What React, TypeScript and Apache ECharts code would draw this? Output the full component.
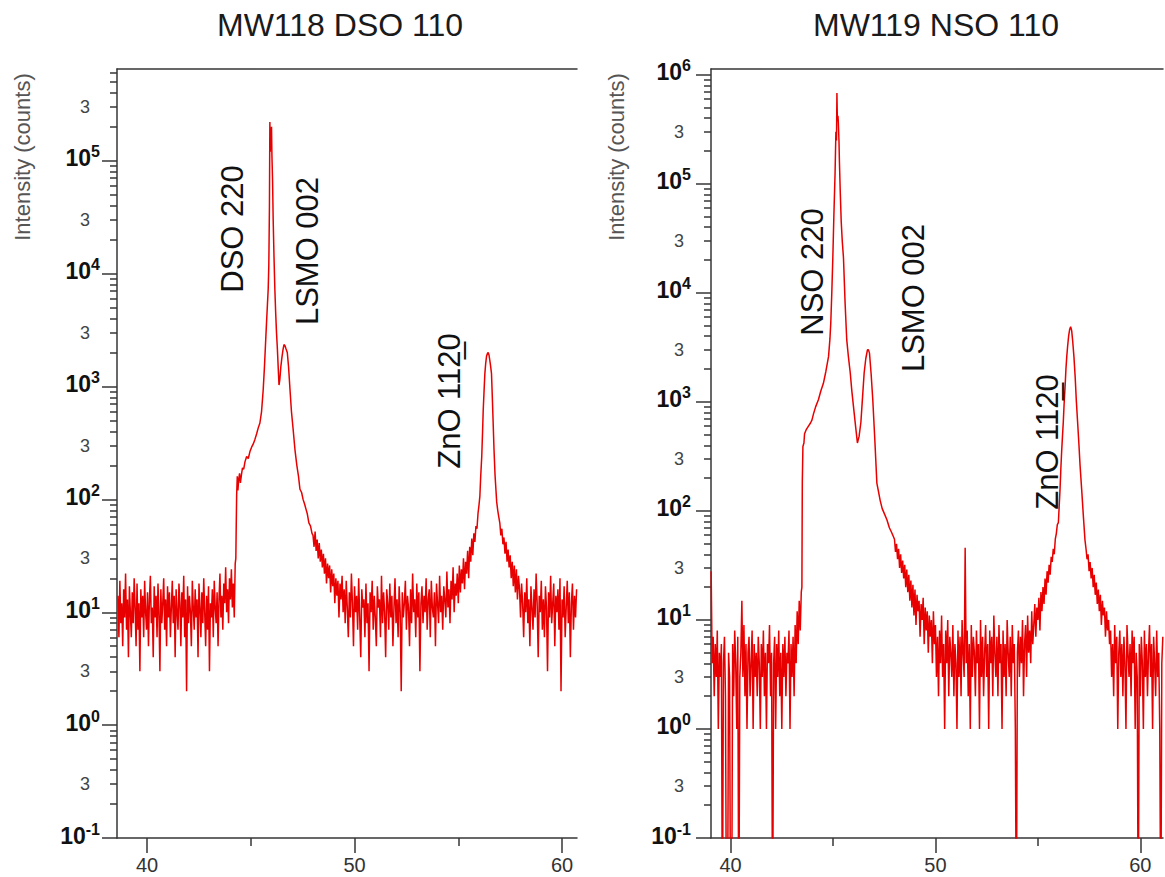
import React, { useEffect, useRef } from "react";
import * as echarts from "echarts";

const FONT = "'Liberation Sans', Arial, Helvetica, sans-serif";
const LINE_COLOR = "#e80000";
const AXIS_COLOR = "#363636";

// ---------- MW118 DSO 110 (counts vs 2theta) ----------
const dsoBgLeft = [
  14, 6, 19, 8, 12, 5, 16, 9, 22, 7,
  13, 4, 17, 10, 6, 15, 8, 20, 11, 5,
  18, 7, 12, 3, 16, 9, 14, 6, 19, 10,
  7, 15, 5, 13, 21, 8, 11, 4, 17, 9,
  14, 6, 18, 10, 3, 16, 8, 12, 20, 7,
  13, 5, 17, 9, 15, 6, 11, 19, 8, 14,
  4, 16, 10, 7, 18, 12, 5, 15, 9, 21,
  6, 13, 2, 17, 8, 14, 10, 5, 19, 11,
  7, 16, 9, 13, 4, 18, 11, 6, 15, 8,
  20, 10, 5, 14, 7, 17, 3, 12, 9, 16,
  6, 19, 11, 8, 15, 5, 13, 22, 9, 14,
  7, 18, 12, 25, 10, 16, 8, 20, 13, 24,
  11, 18, 9, 27,
];
const dsoPeakX = [
  44.28, 44.3, 44.32, 44.35, 44.38, 44.42, 44.46, 44.5, 44.55, 44.6,
  44.66, 44.72, 44.8, 44.88, 44.96, 45.04, 45.12, 45.2, 45.28, 45.36,
  45.44, 45.52, 45.6, 45.66, 45.72, 45.76, 45.8, 45.84, 45.87, 45.9,
  45.92, 45.94, 45.96, 45.98, 46.0, 46.02, 46.05, 46.08, 46.12, 46.16,
  46.2, 46.24, 46.28, 46.32, 46.36, 46.4, 46.45, 46.5, 46.55, 46.6,
  46.65, 46.7, 46.76, 46.82, 46.89, 46.96, 47.04, 47.13, 47.22, 47.3,
  47.37, 47.45, 47.52, 47.6, 47.66, 47.72, 47.8, 47.88, 47.95,
];
const dsoPeakY = [
  30, 60, 110, 160, 120, 150, 170, 140, 165, 190,
  185, 215, 240, 230, 265, 290, 310, 340, 380, 430,
  475, 600, 940, 1500, 2600, 3700, 5200, 7300, 12000, 40000,
  220000, 120000, 190000, 150000, 200000, 110000, 68000, 30000, 14000, 7300,
  4500, 3000, 2200, 1500, 1030, 1150, 1500, 1800, 2100, 2350,
  2300, 2150, 2000, 1500, 940, 600, 420, 275, 200, 160,
  123, 115, 100, 90, 82, 75, 62, 58, 50,
];
const dsoBgMid = [
  48, 38, 52, 35, 44, 30, 41, 28, 36, 25,
  33, 22, 30, 18, 27, 20, 26, 15, 24, 17,
  22, 12, 20, 14, 19, 9, 18, 13, 21, 10,
  16, 8, 19, 11, 6, 15, 9, 22, 12, 5,
  17, 10, 14, 7, 20, 9, 4, 16, 11, 13,
  6, 18, 8, 12, 3, 15, 10, 19, 7, 14,
  9, 5, 17, 11, 13, 6, 21, 8, 15, 10,
  4, 16, 12, 7, 18, 9, 14, 5, 11, 20,
  8, 13, 6, 17, 10, 2, 15, 9, 12, 19,
  7, 14, 11, 5, 16, 8, 22, 10, 13, 6,
  18, 9, 15, 3, 12, 17, 8, 14, 10, 20,
  7, 13, 16, 6, 19, 11, 9, 15, 5, 18,
  12, 8, 21, 10, 14, 7, 17, 13, 9, 23,
  11, 16, 8, 19, 13, 25, 10, 18, 14, 22,
  12, 26, 15, 24, 18, 30, 16, 28, 22, 35,
  20, 38, 28, 45, 32, 50, 42, 58, 55, 75,
];
const dsoZnoX = [
  56.0, 56.04, 56.08, 56.13, 56.17, 56.2, 56.24, 56.28, 56.32, 56.36,
  56.4, 56.44, 56.48, 56.52, 56.56, 56.6, 56.64, 56.68, 56.72, 56.77,
  56.81, 56.85, 56.9, 56.95,
];
const dsoZnoY = [
  90, 107, 160, 240, 400, 610, 900, 1300, 1600, 1850,
  1950, 2000, 1900, 1700, 1500, 1300, 800, 475, 280, 165,
  125, 95, 80, 70,
];
const dsoBgRight = [
  62, 48, 55, 40, 46, 33, 42, 28, 36, 25,
  32, 20, 28, 17, 26, 15, 24, 13, 21, 16,
  9, 18, 12, 6, 15, 10, 20, 8, 13, 5,
  17, 11, 7, 16, 9, 22, 12, 4, 14, 10,
  19, 7, 13, 6, 17, 11, 3, 15, 9, 21,
  8, 12, 18, 5, 14, 10, 16, 7, 20, 2,
  13, 9, 17, 6, 11, 19, 8, 15, 4, 12,
  18, 7, 14, 9, 16,
];

// ---------- MW119 NSO 110 ----------
// 0.01 marks zero-count channels (below the axis floor)
const nsoBgLeft = [
  28, 4, 7, 2, 6, 3, 8, 1, 5, 3,
  6, 0.01, 4, 7, 2, 0.01, 0.01, 5, 3, 0.01,
  0.01, 6, 2, 8, 4, 1, 7, 0.01, 3, 5,
  15, 3, 9, 2, 6, 1, 5, 7, 2, 4,
  8, 1, 6, 3, 5, 2, 7, 4, 1, 6,
  3, 8, 2, 5, 1, 6, 4, 9, 2, 5,
  0.01, 4, 7, 1, 6, 3, 8, 2, 5, 1,
  6, 3, 7, 2, 5, 4, 8, 1, 6, 3,
  7, 2, 9, 4, 12, 6, 15, 8, 18,
];
const nsoPeakX = [
  43.48, 43.5, 43.53, 43.58, 43.61, 43.7, 43.8, 43.9, 43.97, 44.05,
  44.15, 44.29, 44.4, 44.53, 44.65, 44.78, 44.85, 44.89, 44.94, 44.99,
  45.04, 45.1, 45.14, 45.17, 45.19, 45.21, 45.24, 45.26, 45.29, 45.31,
  45.35, 45.4, 45.45, 45.51, 45.59, 45.67, 45.75, 45.84, 45.92, 46.0,
  46.1, 46.19, 46.27, 46.36, 46.44, 46.52, 46.6, 46.68, 46.73, 46.78,
  46.86, 46.94, 47.04, 47.14, 47.22, 47.3, 47.4, 47.5, 47.63, 47.75,
  47.85, 47.95,
];
const nsoPeakY = [
  20, 180, 390, 420, 510, 560, 600, 640, 680, 780,
  900, 1050, 1250, 1480, 1900, 2600, 3800, 5300, 10000, 21000,
  50000, 126000, 300000, 250000, 680000, 400000, 420000, 360000, 250000, 166000,
  88000, 45000, 30000, 21000, 8000, 3700, 2600, 1850, 1250, 900,
  600, 420, 480, 650, 1100, 1850, 2500, 3000, 3000, 2800,
  1800, 1050, 450, 180, 150, 125, 105, 95, 83, 70,
  64, 58,
];
const nsoBgMid = [
  55, 42, 50, 36, 45, 30, 40, 27, 35, 24,
  32, 20, 29, 18, 26, 15, 23, 13, 21, 11,
  19, 9, 17, 12, 15, 7, 14, 10, 16, 6,
  13, 8, 12, 5, 11, 7, 10, 4, 12, 6,
  9, 3, 7, 2, 8, 4, 11, 3, 6, 1,
  8, 4, 10, 2, 7, 5, 3, 9, 2, 6,
  4, 1, 8, 3, 7, 2, 10, 5, 3, 46,
  4, 8, 2, 6, 1, 9, 3, 7, 5, 2,
  8, 4, 6, 1, 10, 3, 7, 2, 5, 9,
  3, 6, 1, 8, 4, 7, 2, 11, 5, 3,
  7, 2, 9, 4, 6, 1, 8, 3, 6, 2,
  10, 5, 3, 7, 2, 9, 4, 6, 1, 0.01,
  5, 8, 3, 7, 4, 10, 2, 6, 9, 3,
  11, 5, 8, 4, 12, 6, 9, 14, 7, 13,
  10, 16, 8, 18, 12, 20, 14, 24, 17, 28,
  22, 32, 26, 38, 34, 45, 40, 55, 62, 75,
];
const nsoZnoX = [
  56.0, 56.04, 56.08, 56.12, 56.16, 56.2, 56.24, 56.28, 56.33, 56.37,
  56.41, 56.45, 56.5, 56.55, 56.6, 56.65, 56.7, 56.76, 56.82, 56.88,
  56.94, 57.0, 57.06, 57.14, 57.22, 57.3,
];
const nsoZnoY = [
  78, 110, 155, 240, 350, 480, 650, 950, 1400, 2000,
  2600, 3200, 4000, 4600, 4900, 4500, 3600, 2600, 1700, 1000,
  650, 420, 260, 155, 90, 54,
];
const nsoBgRight = [
  45, 36, 40, 28, 34, 24, 30, 20, 26, 17,
  22, 14, 19, 12, 17, 9, 15, 11, 13, 7,
  12, 8, 10, 6,
  8, 3, 6, 2, 9, 4, 7, 1, 5, 8,
  3, 6, 2, 7, 4, 1, 9, 5, 3, 6,
  2, 8, 4, 7, 1, 5, 3, 0.01, 6, 2,
  7, 4, 1, 8, 3, 6, 2, 5, 9, 3,
  6, 1, 7, 4, 2, 8, 3, 5, 1, 0.01,
  4, 7,
];

// ---------- axes / ticks ----------
const xTickValues = [40, 50, 60];
const xMinorValues = [45, 55];
const dsoDecades = [-1, 0, 1, 2, 3, 4, 5];
const nsoDecades = [-1, 0, 1, 2, 3, 4, 5, 6];
const minorMultipliers = [2, 3, 4, 5, 6, 7, 8, 9];
const labeledMultiplier = 3;

function grid(start: number, end: number, values: number[]) {
  const n = values.length;
  return values.map((v, i) => [start + ((end - start) * i) / (n - 1), v]);
}
function pairs(xs: number[], ys: number[]) {
  return xs.map((x, i) => [x, ys[i]]);
}

const dsoData = [
  ...grid(38.6, 44.25, dsoBgLeft),
  ...pairs(dsoPeakX, dsoPeakY),
  ...grid(48.0, 55.95, dsoBgMid),
  ...pairs(dsoZnoX, dsoZnoY),
  ...grid(57.0, 60.7, dsoBgRight),
];
const nsoData = [
  ...grid(39.05, 43.45, nsoBgLeft),
  ...pairs(nsoPeakX, nsoPeakY),
  ...grid(48.0, 55.95, nsoBgMid),
  ...pairs(nsoZnoX, nsoZnoY),
  ...grid(57.35, 61.1, nsoBgRight),
];

const lineStyle = { color: AXIS_COLOR, width: 1.5 };

function panel(idx: number, cfg: any) {
  const maxExp = Math.log10(cfg.yMax);
  const minors: number[] = [];
  const threes: number[] = [];
  cfg.decades.forEach((d: number) => {
    minorMultipliers.forEach((m) => {
      const v = d + Math.log10(m);
      if (v <= maxExp) minors.push(v);
    });
    const t = d + Math.log10(labeledMultiplier);
    if (t <= maxExp) threes.push(t);
  });
  const gridOpt = { left: cfg.left, top: 69, width: cfg.width, height: 769 };
  const xAxes = [
    {
      gridIndex: idx, type: "value", position: "bottom", min: cfg.xMin, max: cfg.xMax,
      axisLine: { show: true, onZero: false, lineStyle },
      axisTick: { show: true, customValues: xTickValues, length: 15, lineStyle },
      axisLabel: { show: true, customValues: xTickValues, margin: 17, fontSize: 20, color: "#333", fontFamily: FONT },
      splitLine: { show: false },
    },
    {
      gridIndex: idx, type: "value", position: "bottom", min: cfg.xMin, max: cfg.xMax,
      axisLine: { show: false, onZero: false },
      axisTick: { show: true, customValues: xMinorValues, length: 8, lineStyle },
      axisLabel: { show: false },
      splitLine: { show: false },
    },
    {
      gridIndex: idx, type: "value", position: "top", min: cfg.xMin, max: cfg.xMax,
      axisLine: { show: true, onZero: false, lineStyle },
      axisTick: { show: false },
      axisLabel: { show: false },
      splitLine: { show: false },
    },
  ];
  const yAxes = [
    { gridIndex: idx, type: "log", logBase: 10, min: 0.1, max: cfg.yMax, show: false, splitLine: { show: false } },
    {
      gridIndex: idx, type: "value", position: "left", min: -1, max: maxExp,
      axisLine: { show: true, onZero: false, lineStyle },
      axisTick: { show: true, customValues: cfg.decades, length: 15, lineStyle },
      axisLabel: {
        show: true, customValues: cfg.decades, margin: cfg.decMargin,
        padding: [0, 0, 8, 0],
        formatter: (v: number) => "{b|10}{s|" + Math.round(v) + "}",
        rich: {
          b: { fontSize: 23, fontWeight: "bold", color: "#111", fontFamily: FONT, verticalAlign: "bottom", lineHeight: 26 },
          s: { fontSize: 16, fontWeight: "bold", color: "#111", fontFamily: FONT, verticalAlign: "top", lineHeight: 14 },
        },
      },
      splitLine: { show: false },
    },
    {
      gridIndex: idx, type: "value", position: "left", min: -1, max: maxExp,
      axisLine: { show: false, onZero: false },
      axisTick: { show: true, customValues: minors, length: 7, lineStyle },
      axisLabel: { show: true, customValues: threes, margin: 27, formatter: () => "3", fontSize: 18, color: "#444", fontFamily: FONT },
      splitLine: { show: false },
    },
  ];
  return { gridOpt, xAxes, yAxes };
}

const titleStyle = { fontSize: 32, fontFamily: FONT, fill: "#1a1a1a", align: "center", verticalAlign: "middle" };
const nameStyle = { fontSize: 22, fontFamily: FONT, fill: "#555", align: "center", verticalAlign: "middle" };
const annStyle = { fontSize: 31, fontFamily: FONT, fill: "#111", align: "center", verticalAlign: "middle" };

function vText(x: number, y: number, text: string, style: any) {
  return { type: "text", x, y, rotation: Math.PI / 2, z: 100, silent: true, style: { ...style, text } };
}

export default function App() {
  const ref = useRef<HTMLDivElement>(null);
  useEffect(() => {
    if (!ref.current) return;
    const chart = echarts.init(ref.current, undefined, { renderer: "svg" });
    const L = panel(0, { left: 117, width: 460, xMin: 38.554, xMax: 60.72, yMax: 6.5e5, decades: dsoDecades, decMargin: 17 });
    const R = panel(1, { left: 711, width: 452, xMin: 39.043, xMax: 61.108, yMax: 1.13e6, decades: nsoDecades, decMargin: 20 });
    const seriesBase = {
      type: "line", showSymbol: false, symbol: "none", silent: true, clip: true,
      lineStyle: { color: LINE_COLOR, width: 1.5 }, itemStyle: { color: LINE_COLOR },
    };
    chart.setOption({
      animation: false,
      backgroundColor: "#ffffff",
      textStyle: { fontFamily: FONT },
      grid: [L.gridOpt, R.gridOpt],
      xAxis: [...L.xAxes, ...R.xAxes],
      yAxis: [...L.yAxes, ...R.yAxes],
      series: [
        { ...seriesBase, name: "MW118 DSO 110", xAxisIndex: 0, yAxisIndex: 0, data: dsoData },
        { ...seriesBase, name: "MW119 NSO 110", xAxisIndex: 3, yAxisIndex: 3, data: nsoData },
      ],
      graphic: [
        { type: "text", x: 340, y: 25, z: 100, silent: true, style: { ...titleStyle, text: "MW118 DSO 110" } },
        { type: "text", x: 936, y: 25, z: 100, silent: true, style: { ...titleStyle, text: "MW119 NSO 110" } },
        vText(22, 157, "Intensity (counts)", nameStyle),
        vText(616, 157, "Intensity (counts)", nameStyle),
        vText(232, 229, "DSO 220", annStyle),
        vText(307, 251, "LSMO 002", annStyle),
        vText(449, 401, "ZnO 112\u03320", annStyle),
        vText(812, 272, "NSO 220", annStyle),
        vText(913, 298, "LSMO 002", annStyle),
        vText(1047, 442, "ZnO 112\u03320", annStyle),
      ],
    });
    return () => chart.dispose();
  }, []);
  return (
    <div
      ref={ref}
      style={{ position: "absolute", left: 0, top: 0, width: 1165, height: 877, background: "#fff" }}
    />
  );
}
